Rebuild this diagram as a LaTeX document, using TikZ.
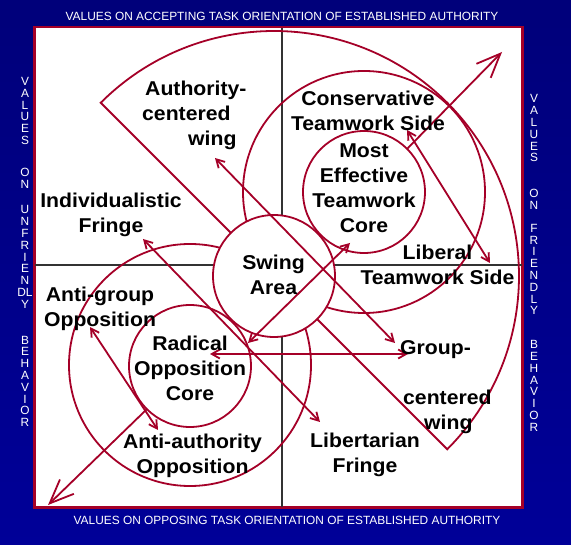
\documentclass[tikz,border=0pt]{standalone}
\usepackage{fontspec}
\setmainfont{Liberation Sans}
\newfontfamily\widesans{Liberation Sans}[FakeStretch=1.06]
\usetikzlibrary{positioning,arrows.meta}
\definecolor{Navy}{RGB}{0,0,122}
\definecolor{NavyLow}{RGB}{0,0,152}
\definecolor{Wine}{RGB}{165,0,40}
\definecolor{Axis}{RGB}{50,50,50}
\newcommand\labfont{\widesans\fontsize{20}{25}\selectfont\bfseries}
\newcommand\capfont{\fontsize{11.9}{11.8}\selectfont}

\begin{document}
\begin{tikzpicture}[x=1pt,y=-1pt,
 ln/.style={draw=Wine,line width=1.8pt},
 ring/.style={circle,ln,inner sep=0pt},
 lbl/.style={align=center,inner sep=0pt,font=\labfont},
 rim/.style={text=white,inner sep=0pt,font=\capfont,align=center},
 a/.style={ln,{Straight Barb[length=8pt,width=9pt]}-{Straight Barb[length=8pt,width=9pt]}},
 big/.style={ln,-{Straight Barb[length=24pt,width=20pt]}}]
% backdrop and board
\shade[top color=Navy,bottom color=NavyLow] (0,0) rectangle (571,545);
\draw[draw=Wine,line width=2.5pt,fill=white] (34.5,27) rectangle (522.5,507.5);
\draw[Axis,line width=1.2pt] (35,265)--(522,265) (282,28)--(282,507);
% captions round the board
\node[rim] (topcap) at (282,16) {VALUES ON ACCEPTING TASK ORIENTATION OF ESTABLISHED AUTHORITY};
\node[rim] (botcap) at (287,520) {VALUES ON OPPOSING TASK ORIENTATION OF ESTABLISHED AUTHORITY};
\node[rim] (lftcap) at (25,252) {V\\A\\L\\U\\E\\S\\[20pt]O\\N\\[14pt]U\\N\\F\\R\\I\\E\\N\\DL\\Y\\[24pt]B\\E\\H\\A\\V\\I\\O\\R};
\node[rim] (rgtcap) at (534,263) {V\\A\\L\\U\\E\\S\\[24pt]O\\N\\[11pt]F\\R\\I\\E\\N\\D\\L\\Y\\[22pt]B\\E\\H\\A\\V\\I\\O\\R};
% wing sector and rings
\coordinate (o) at (274,276);
\draw[ln] ([shift={(225:245)}]o) arc[start angle=225,end angle=405,radius=245] -- cycle;
\node[ring,minimum size=242pt] (cons) at (364,192) {};
\node[ring,minimum size=122pt] (mec) at (364,192) {};
\node[ring,minimum size=242pt] (opp) at (190,365) {};
\node[ring,minimum size=122pt] (rad) at (190,366) {};
\node[ring,fill=white,minimum size=122pt] (sw) at (o) {};
% arrows
\coordinate (ne) at (502,52);
\coordinate (sw0) at (48,505);
\coordinate (m1) at (248,343);
\coordinate (m2) at (350,243);
\coordinate (w1) at (215,158);
\coordinate (w2) at (395,343);
\coordinate (f1) at (143,239);
\coordinate (f2) at (320,422);
\coordinate (g1) at (90,327);
\coordinate (g2) at (158,430);
\coordinate (c1) at (407,130);
\coordinate (c2) at (490,263);
\coordinate (h1) at (210,354);
\coordinate (h2) at (408,354);
\draw[big] (mec.north east) -- (ne);
\draw[big] (rad.south west) -- (sw0);
\draw[a] (m1) -- (m2);
\draw[a] (w1) -- (w2);
\draw[a] (f1) -- (f2);
\draw[a] (g1) -- (g2);
\draw[a] (c1) -- (c2);
\draw[a] (h1) -- (h2);
% labels
\node[lbl,align=left,anchor=west] (auth) at (142,115) {\hspace*{3pt}Authority-\\centered\\\hspace*{46pt}wing};
\node[lbl] (consl) at (368,111) {Conservative\\Teamwork Side};
\node[lbl] (mecl) at (364,188) {Most\\Effective\\Teamwork\\Core};
\node[lbl] (indl) at (111,215) {Individualistic\\Fringe};
\node[lbl] (swl) at (273.5,275) {Swing\\Area};
\node[lbl] (libl) at (437.5,264.5) {Liberal\\Teamwork Side};
\node[lbl] (agl) at (100,308.5) {Anti-group\\Opposition};
\node[lbl] (radl) at (190,368) {Radical\\Opposition\\Core};
\node[lbl,align=left,anchor=west] (grpl) at (400,387) {Group-\\[25pt]\hspace*{3pt}centered\\\hspace*{24pt}wing};
\node[lbl] (aal) at (192.5,456) {Anti-authority\\Opposition};
\node[lbl] (lfl) at (365,455) {Libertarian\\Fringe};
\end{tikzpicture}
\end{document}
